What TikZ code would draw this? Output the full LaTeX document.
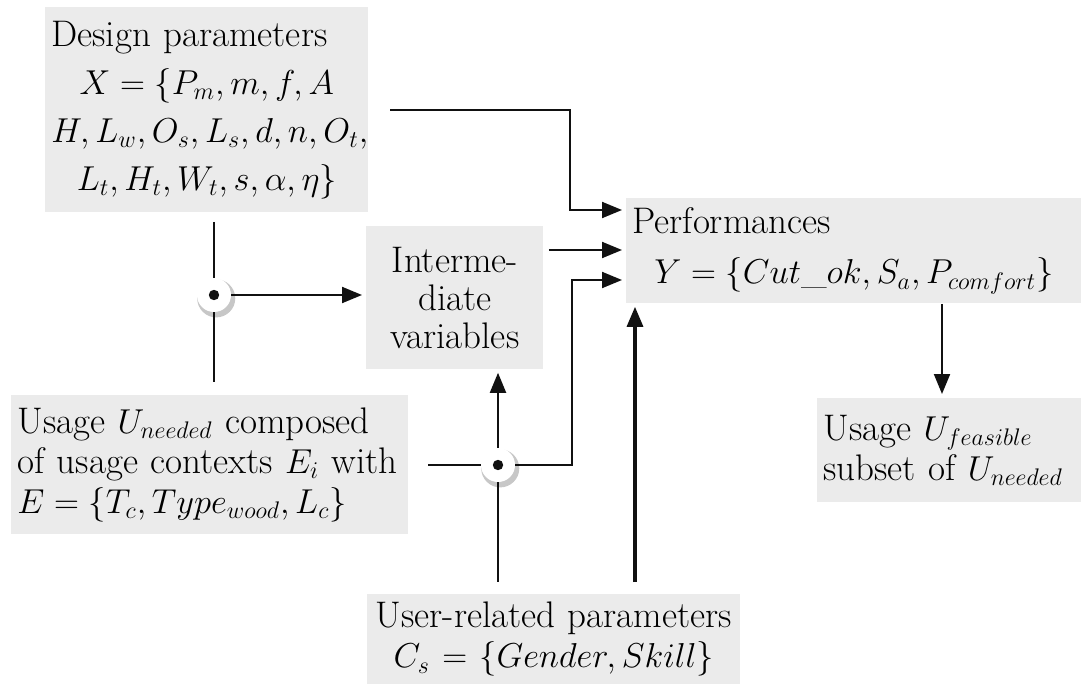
\documentclass[tikz,border=0pt]{standalone}
\usepackage{fontspec}
\usetikzlibrary{arrows.meta, positioning, calc, shadows}
\definecolor{boxgray}{HTML}{EBEBEB}
\definecolor{lineink}{HTML}{111111}
\tikzset{
  pbox/.style={fill=boxgray, anchor=north west, inner sep=3pt, align=left,
    font=\fontsize{18.5}{20}\selectfont},
  flow/.style={-{Triangle[length=10pt, width=8pt]}, draw=lineink, line width=1pt},
  link/.style={draw=lineink, line width=1pt},
  junc/.style={circle, fill=white, minimum size=17pt, inner sep=0pt,
    drop shadow={shadow xshift=1pt, shadow yshift=-1.5pt, shadow scale=1.12, fill=black, opacity=0.22}}
}

\begin{document}
\begin{tikzpicture}[x=0.5pt, y=-0.5pt]
\useasboundingbox (0,0) rectangle (1081,684);
% boxes
\node[pbox, minimum width=161.5pt, minimum height=102.5pt, text width=155.5pt,
  font=\fontsize{18.5}{24}\selectfont] (design) at (45,7)
  {Design parameters\par
   {\centering\fontsize{17}{24}\selectfont $X=\{P_m, m, f, A$\\ $H, L_w, O_s, L_s, d, n, O_t,$\\ $L_t, H_t, W_t, s, \alpha, \eta\}$\par}};
\node[pbox, align=center, minimum width=88.5pt, minimum height=71.5pt, text width=82.5pt,
  font=\fontsize{18.5}{19}\selectfont] (inter) at (366,226) {Interme-\\diate\\variables\\[5pt]};
\node[pbox, minimum width=227.5pt, minimum height=52.5pt, text width=221.5pt,
  font=\fontsize{18.5}{25}\selectfont] (perf) at (626,198)
  {Performances\par
   {\centering $Y=\{Cut\_ok, S_a, P_{comfort}\}$\par}};
\node[pbox, minimum width=198.5pt, minimum height=69.5pt, text width=192.5pt] (need) at (11,395)
  {Usage $U_{needed}$ composed\\of usage contexts $E_i$ with\\$E=\{T_c, Type_{wood}, L_c\}$};
\node[pbox, minimum width=132pt, minimum height=52pt, text width=126pt] (feas) at (817,398)
  {Usage $U_{feasible}$\\subset of $U_{needed}$};
\node[pbox, align=center, minimum width=186.5pt, minimum height=45pt, text width=180.5pt] (user) at (367,594)
  {User-related parameters\\$C_s=\{Gender, Skill\}$};
% junction points and free ends
\coordinate (j1) at (214,295);
\coordinate (j2) at (498,465);
\coordinate (dtap) at (390,110);
\coordinate (j1top) at (214,222);
\coordinate (j1bot) at (214,382);
\coordinate (j2left) at (428,465);
\coordinate (j2bot) at (498,582);
\coordinate (ubot) at (635,582);
% connectors
\draw[flow] (dtap) -| (570,210) -- ([xshift=-2pt]perf.west |- 0,210);
\draw[flow] ([xshift=2.5pt]inter.east |- 0,250) -- ([xshift=-2pt]perf.west |- 0,250);
\draw[flow] (j2) -| (572,280) -- ([xshift=-2pt]perf.west |- 0,280);
\draw[link] (j1top) -- (j1bot);
\draw[flow] (j1) -- ([xshift=-2pt]inter.west |- j1);
\draw[link] (j2left) -- (j2) -- (j2bot);
\draw[flow] (j2) -- ([yshift=-1.5pt]inter.south -| j2);
\draw[flow, line width=1.6pt] (ubot) -- ([yshift=-1.5pt]perf.south -| ubot);
\draw[flow] (perf.south -| 942,0) -- ([yshift=2pt]feas.north -| 942,0);
% junctions
\foreach \j in {j1, j2} {
  \node[junc] (\j c) at (\j) {};
  \fill[lineink] (\j) circle (2.6pt);
}
\end{tikzpicture}
\end{document}
